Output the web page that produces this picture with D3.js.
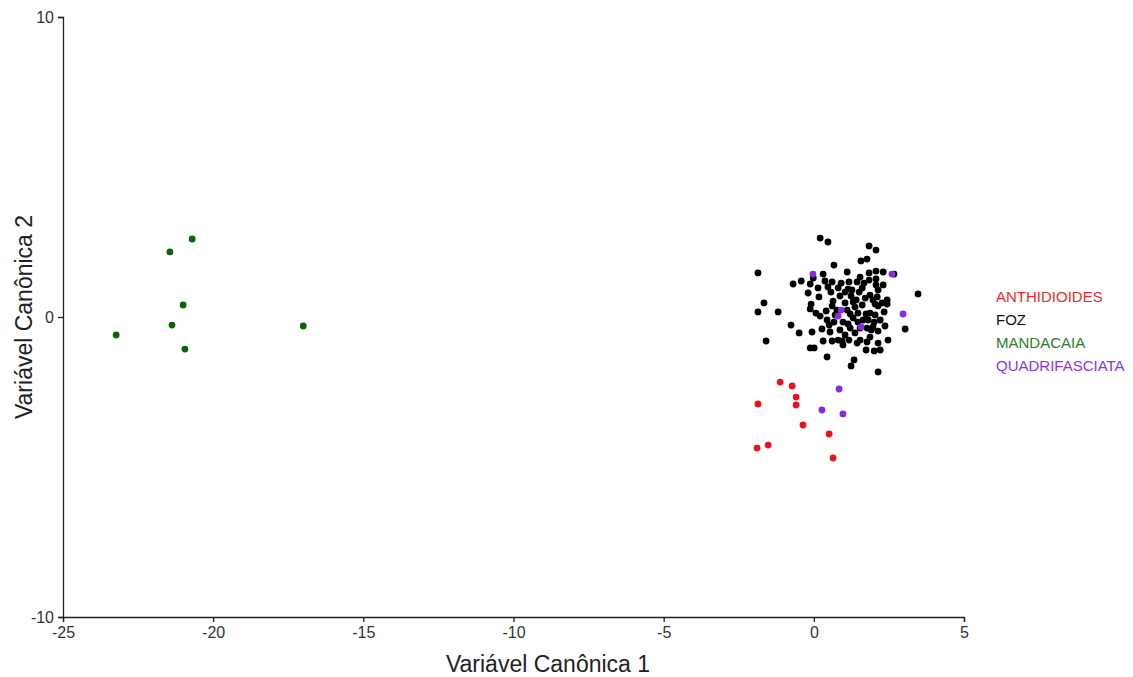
<!DOCTYPE html>
<html>
<head>
<meta charset="utf-8">
<script src="https://cdn.jsdelivr.net/npm/d3@7"></script>
<style>
  body { margin: 0; background: #fff; }
  text { font-family: "Liberation Sans", Arial, sans-serif; }
  .tick text { font-size: 16px; }
</style>
</head>
<body>
<script>
// Groups shown in the legend
const groups = ["ANTHIDIOIDES", "FOZ", "MANDACAIA", "QUADRIFASCIATA"];
const pointColors = ["#e8141c", "#000000", "#0a640a", "#8a2be2"];
const legendColors = ["#f02828", "#111111", "#2a7d2a", "#9030f0"];

// Canonical variable scores, [cv1, cv2]
const anthidioides = [
  [-1.12, -2.17], [-0.72, -2.3], [-0.59, -2.67], [-0.59, -2.93], [-1.86, -2.9],
  [-0.36, -3.6], [0.51, -3.9], [-1.89, -4.37], [-1.52, -4.27], [0.64, -4.7]
];
const mandacaia = [
  [-23.23, -0.6], [-21.44, 2.17], [-20.70, 2.6], [-21.0, 0.4],
  [-21.37, -0.27], [-20.94, -1.07], [-17.0, -0.3]
];
const quadrifasciata = [
  [-0.03, 1.43], [2.6, 1.43], [2.97, 0.1], [0.91, 0.23], [0.81, 0.03],
  [1.57, -0.33], [0.84, -2.4], [0.27, -3.1], [0.97, -3.23]
];
const foz = [
  [0.21, 2.63], [0.47, 2.5], [1.84, 2.37], [2.07, 2.23], [1.57, 1.87], [1.77, 1.93],
  [0.67, 1.73], [-1.86, 1.47], [0.31, 1.43], [1.11, 1.5], [1.84, 1.47], [2.07, 1.53],
  [2.31, 1.5], [2.67, 1.43], [-0.69, 1.1], [-0.42, 1.2], [-0.12, 1.1], [-0.02, 1.3],
  [0.14, 0.97], [0.37, 1.2], [0.47, 1.0], [0.57, 0.83], [-0.19, 0.8], [0.17, 0.67],
  [-0.09, 0.43], [-1.66, 0.47], [0.64, 0.53], [2.07, 1.27], [1.54, 1.33], [1.44, 1.17],
  [1.67, 1.13], [1.61, 0.97], [1.17, 1.17], [0.91, 1.13], [0.81, 0.97], [1.14, 0.93],
  [1.51, 0.83], [2.14, 0.9], [3.47, 0.77], [2.44, 0.57], [1.97, 0.57], [1.24, 0.7],
  [1.41, 0.57], [0.87, 0.7], [1.04, 0.47], [-1.86, 0.17], [-1.19, 0.17], [-0.12, 0.27],
  [0.07, 0.13], [0.61, 0.37], [-0.76, -0.27], [-0.49, -0.53], [-0.06, -0.5], [0.27, -0.4],
  [0.51, -0.27], [0.54, -0.5], [-1.59, -0.8], [0.31, -0.8], [0.61, -0.8], [-0.12, -1.03],
  [0.01, -1.03], [0.44, -1.33], [2.04, 0.43], [2.44, 0.43], [3.04, -0.4], [1.11, 0.23],
  [1.37, 0.33], [1.61, 0.4], [1.87, 0.13], [2.04, 0.07], [1.77, -0.37], [1.97, -0.33],
  [0.81, -0.77], [0.94, -0.8], [1.44, -0.87], [1.54, -0.77], [1.77, -0.83], [1.74, -1.1],
  [2.01, -1.13], [2.14, -0.87], [2.47, -0.77], [1.34, -1.43], [1.24, -1.63], [2.14, -1.83],
  [1.31, 0.5], [2.14, 0.37], [1.21, 0.1], [1.47, 0.13], [1.74, 0.1], [0.44, -0.1],
  [0.67, -0.17], [0.97, -0.17], [1.31, -0.03], [1.64, -0.1], [2.01, -0.17], [1.21, -0.37],
  [1.91, -0.43], [2.14, -0.47], [1.04, -0.6], [1.37, -0.53], [1.54, -0.37], [0.87, -0.43],
  [0.71, 0.07], [2.21, -0.1], [2.34, 0.17], [1.87, 0.73], [1.71, 0.63], [2.31, 1.07],
  [2.11, 0.67], [0.77, 0.23], [0.97, -0.93], [2.21, -1.1], [1.87, -0.67], [1.17, -0.77],
  [2.07, 1.07], [1.27, 0.9], [1.04, 0.83], [1.84, 1.23], [0.61, 1.17], [0.21, 0.03],
  [0.41, 0.2], [1.81, -0.1], [1.47, -0.17], [1.14, -0.23], [2.37, -0.3], [2.27, 0.47]
];

const xTicks = [-25, -20, -15, -10, -5, 0, 5];
const yTicks = [-10, 0, 10];

const width = 1133, height = 677;
const margin = { top: 17, right: 169, bottom: 60, left: 63 };

const svg = d3.select("body").append("svg")
  .attr("width", width)
  .attr("height", height);

const x = d3.scaleLinear()
  .domain([-25, 5])
  .range([margin.left, width - margin.right]);
const y = d3.scaleLinear()
  .domain([-10, 10])
  .range([height - margin.bottom, margin.top]);

// axes - plain hyphen for negatives like the original
const fmt = d => String(d);
const xAxis = svg.append("g")
  .attr("transform", `translate(0,${height - margin.bottom})`)
  .call(d3.axisBottom(x).tickValues(xTicks).tickFormat(fmt).tickSize(5).tickPadding(5));
const yAxis = svg.append("g")
  .attr("transform", `translate(${margin.left},0)`)
  .call(d3.axisLeft(y).tickValues(yTicks).tickFormat(fmt).tickSize(5).tickPadding(4));

[xAxis, yAxis].forEach(a => {
  a.select(".domain").attr("stroke", "#222").attr("stroke-width", 1.3);
  a.selectAll(".tick line").attr("stroke", "#222").attr("stroke-width", 1.3);
  a.selectAll(".tick text").attr("fill", "#333");
});

// axis titles
svg.append("text")
  .attr("x", 548)
  .attr("y", 672)
  .attr("text-anchor", "middle")
  .attr("fill", "#222")
  .style("font-size", "23px")
  .text("Variável Canônica 1");

svg.append("text")
  .attr("transform", `translate(32,${y(0)}) rotate(-90)`)
  .attr("text-anchor", "middle")
  .attr("fill", "#222")
  .style("font-size", "23px")
  .text("Variável Canônica 2");

// points
const series = [anthidioides, foz, mandacaia, quadrifasciata];
const drawOrder = [1, 0, 2, 3];
drawOrder.forEach(i => {
  svg.append("g")
    .selectAll("circle")
    .data(series[i])
    .join("circle")
    .attr("cx", d => x(d[0]))
    .attr("cy", d => y(d[1]))
    .attr("r", 3.4)
    .attr("fill", pointColors[i]);
});

// legend
const legend = svg.append("g")
  .attr("transform", "translate(996,302)");
legend.selectAll("text")
  .data(groups)
  .join("text")
  .attr("x", 0)
  .attr("y", (d, i) => i * 23)
  .attr("fill", (d, i) => legendColors[i])
  .style("font-size", "15px")
  .text(d => d);
</script>
</body>
</html>
